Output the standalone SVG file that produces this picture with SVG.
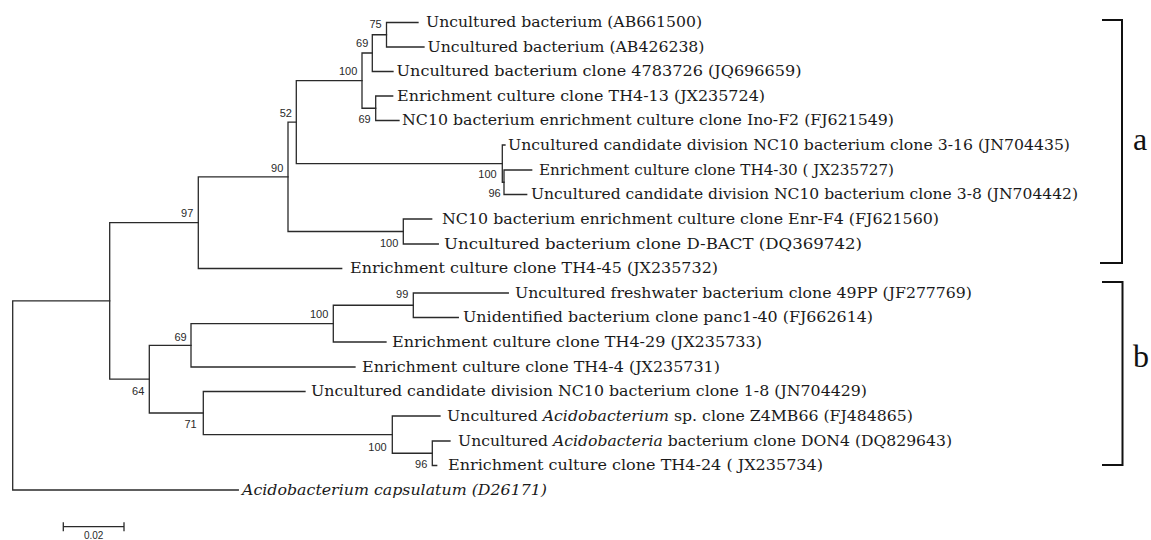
<svg xmlns="http://www.w3.org/2000/svg" width="1151" height="540" viewBox="0 0 1151 540">
<style>
.br{fill:none;stroke:#2a2a2a;stroke-width:1.3;stroke-linecap:square}
.bk{fill:none;stroke:#111;stroke-width:2}
.lf{font-family:"DejaVu Serif","Liberation Serif",serif;font-size:14.5px;fill:#1a1a1a}
.it{font-style:italic}
.bs{font-family:"Liberation Sans","DejaVu Sans",sans-serif;font-size:11px;fill:#2a2a2a;text-anchor:end}
.cl{font-family:"Liberation Serif","DejaVu Serif",serif;font-size:32px;fill:#111}
</style>
<rect width="1151" height="540" fill="#fff"/>
<g id="connectors">
<path class="br" d="M386.5,22.5V47M386.5,22.5H418M386.5,47H424"/>
<path class="br" d="M372.3,34.75V71.5M372.3,34.75H386.5M372.3,71.5H393"/>
<path class="br" d="M375.7,96V120.5M375.7,96H392.7M375.7,120.5H399"/>
<path class="br" d="M362,53V108.25M362,53H372.3M362,108.25H375.7"/>
<path class="br" d="M504,170V194.5M504,170H531.7M504,194.5H526.7"/>
<path class="br" d="M502.3,145V182.25M502.3,145H505M502.3,182.25H504"/>
<path class="br" d="M296.3,80.6V163.6M296.3,80.6H362M296.3,163.6H502.3"/>
<path class="br" d="M403.3,219V244M403.3,219H431.7M403.3,244H438.3"/>
<path class="br" d="M288,122.1V231.5M288,122.1H296.3M288,231.5H403.3"/>
<path class="br" d="M198.3,176.8V268.5M198.3,176.8H288M198.3,268.5H341.7"/>
<path class="br" d="M413.3,293V317.5M413.3,293H508.3M413.3,317.5H458.3"/>
<path class="br" d="M333.3,305.25V342M333.3,305.25H413.3M333.3,342H386"/>
<path class="br" d="M191,323.6V367M191,323.6H333.3M191,367H355"/>
<path class="br" d="M432.3,441V465.5M432.3,441H450M432.3,465.5H436.7"/>
<path class="br" d="M392.3,416V453.25M392.3,416H440M392.3,453.25H432.3"/>
<path class="br" d="M203.3,391.5V434.6M203.3,391.5H305M203.3,434.6H392.3"/>
<path class="br" d="M149.3,345.3V413M149.3,345.3H191M149.3,413H203.3"/>
<path class="br" d="M109.7,222.6V379.2M109.7,222.6H198.3M109.7,379.2H149.3"/>
<path class="br" d="M12.7,300.9V490M12.7,300.9H109.7M12.7,490H238.3"/>
</g>
<g id="scale-bar">
<path class="br" d="M63.3,526.7H124M63.3,523V530.5M124,523V530.5"/>
<text x="93.7" y="539" style="font-family:'Liberation Sans',sans-serif;font-size:10px;fill:#2a2a2a;text-anchor:middle">0.02</text>
</g>
<g id="n75"><text class="bs" x="381.7" y="28">75</text></g>
<g id="n69a"><text class="bs" x="368.3" y="46.5">69</text></g>
<g id="n100a"><text class="bs" x="357.3" y="75">100</text></g>
<g id="n69b"><text class="bs" x="370.7" y="122.5">69</text></g>
<g id="n52"><text class="bs" x="292" y="116.5">52</text></g>
<g id="n90"><text class="bs" x="283.3" y="171.5">90</text></g>
<g id="n97"><text class="bs" x="193.3" y="216.5">97</text></g>
<g id="n100c"><text class="bs" x="398.3" y="246.5">100</text></g>
<g id="n100b"><text class="bs" x="496.7" y="178">100</text></g>
<g id="n96a"><text class="bs" x="500.7" y="196.5">96</text></g>
<g id="n99"><text class="bs" x="408.3" y="298">99</text></g>
<g id="n100d"><text class="bs" x="328.3" y="318">100</text></g>
<g id="n69c"><text class="bs" x="186.7" y="340.5">69</text></g>
<g id="n64"><text class="bs" x="144.3" y="395">64</text></g>
<g id="n71"><text class="bs" x="196.7" y="428">71</text></g>
<g id="n100e"><text class="bs" x="386.7" y="450.5">100</text></g>
<g id="n96b"><text class="bs" x="427.3" y="468">96</text></g>
<g id="leaf1"><text class="lf" x="426" y="27" textLength="276" lengthAdjust="spacingAndGlyphs">Uncultured bacterium (AB661500)</text></g>
<g id="leaf2"><text class="lf" x="427.5" y="51.5" textLength="277" lengthAdjust="spacingAndGlyphs">Uncultured bacterium (AB426238)</text></g>
<g id="leaf3"><text class="lf" x="396.5" y="76" textLength="405" lengthAdjust="spacingAndGlyphs">Uncultured bacterium clone 4783726 (JQ696659)</text></g>
<g id="leaf4"><text class="lf" x="397" y="100.5" textLength="368" lengthAdjust="spacingAndGlyphs">Enrichment culture clone TH4-13 (JX235724)</text></g>
<g id="leaf5"><text class="lf" x="402" y="125" textLength="492" lengthAdjust="spacingAndGlyphs">NC10 bacterium enrichment culture clone Ino-F2 (FJ621549)</text></g>
<g id="leaf6"><text class="lf" x="508" y="149.5" textLength="562" lengthAdjust="spacingAndGlyphs">Uncultured candidate division NC10 bacterium clone 3-16 (JN704435)</text></g>
<g id="leaf7"><text class="lf" x="539" y="174.5" textLength="355" lengthAdjust="spacingAndGlyphs">Enrichment culture clone TH4-30 ( JX235727)</text></g>
<g id="leaf8"><text class="lf" x="531" y="199" textLength="547" lengthAdjust="spacingAndGlyphs">Uncultured candidate division NC10 bacterium clone 3-8 (JN704442)</text></g>
<g id="leaf9"><text class="lf" x="442" y="223.5" textLength="497" lengthAdjust="spacingAndGlyphs">NC10 bacterium enrichment culture clone Enr-F4 (FJ621560)</text></g>
<g id="leaf10"><text class="lf" x="444" y="248.5" textLength="418" lengthAdjust="spacingAndGlyphs">Uncultured bacterium clone D-BACT (DQ369742)</text></g>
<g id="leaf11"><text class="lf" x="350" y="273" textLength="368" lengthAdjust="spacingAndGlyphs">Enrichment culture clone TH4-45 (JX235732)</text></g>
<g id="leaf12"><text class="lf" x="515" y="297.5" textLength="457" lengthAdjust="spacingAndGlyphs">Uncultured freshwater bacterium clone 49PP (JF277769)</text></g>
<g id="leaf13"><text class="lf" x="463" y="322" textLength="410" lengthAdjust="spacingAndGlyphs">Unidentified bacterium clone panc1-40 (FJ662614)</text></g>
<g id="leaf14"><text class="lf" x="392" y="346.5" textLength="370" lengthAdjust="spacingAndGlyphs">Enrichment culture clone TH4-29 (JX235733)</text></g>
<g id="leaf15"><text class="lf" x="362" y="371.5" textLength="358" lengthAdjust="spacingAndGlyphs">Enrichment culture clone TH4-4 (JX235731)</text></g>
<g id="leaf16"><text class="lf" x="311" y="396" textLength="556" lengthAdjust="spacingAndGlyphs">Uncultured candidate division NC10 bacterium clone 1-8 (JN704429)</text></g>
<g id="leaf17"><text class="lf" x="447" y="420.5" textLength="466" lengthAdjust="spacingAndGlyphs">Uncultured <tspan class="it">Acidobacterium</tspan> sp. clone Z4MB66 (FJ484865)</text></g>
<g id="leaf18"><text class="lf" x="458" y="445.5" textLength="494" lengthAdjust="spacingAndGlyphs">Uncultured <tspan class="it">Acidobacteria</tspan> bacterium clone DON4 (DQ829643)</text></g>
<g id="leaf19"><text class="lf" x="448" y="470" textLength="375" lengthAdjust="spacingAndGlyphs">Enrichment culture clone TH4-24 ( JX235734)</text></g>
<g id="leaf20"><text class="lf it" x="242" y="494.5" textLength="305" lengthAdjust="spacingAndGlyphs">Acidobacterium capsulatum (D26171)</text></g>
<g id="clade-a"><path class="bk" d="M1102,20H1122V263H1100"/><text class="cl" x="1133" y="150">a</text></g>
<g id="clade-b"><path class="bk" d="M1102,282H1122.5V465H1102"/><text class="cl" x="1133" y="366.5">b</text></g>
</svg>
